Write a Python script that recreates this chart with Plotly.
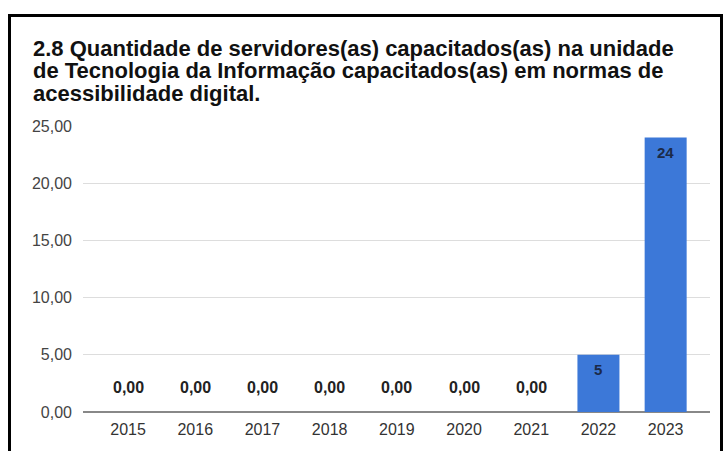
import plotly.graph_objects as go

years = ["2015", "2016", "2017", "2018", "2019", "2020", "2021", "2022", "2023"]
values = [0, 0, 0, 0, 0, 0, 0, 5, 24]
value_labels = ["0,00", "0,00", "0,00", "0,00", "0,00", "0,00", "0,00", "5", "24"]
y_ticks = [0, 5, 10, 15, 20, 25]
y_tick_labels = ["0,00", "5,00", "10,00", "15,00", "20,00", "25,00"]
title_lines = [
    "2.8 Quantidade de servidores(as) capacitados(as) na unidade",
    "de Tecnologia da Informação capacitados(as) em normas de",
    "acessibilidade digital.",
]

FONT = "Arial, 'Liberation Sans', sans-serif"
L, R, T, B = 83, 17, 126, 39
W, H = 727, 451
PH = H - T - B
PW = W - L - R

fig = go.Figure()
fig.add_trace(go.Bar(
    x=years, y=values,
    marker=dict(color="#3c78d8", line=dict(width=0)),
    hoverinfo="skip",
))

annotations = []
for i, (v, lab) in enumerate(zip(values, value_labels)):
    if v == 0:
        annotations.append(dict(x=i, y=v, xref="x", yref="y", text="<b>%s</b>" % lab,
                                showarrow=False, yanchor="middle", yshift=25,
                                font=dict(family=FONT, size=16, color="#222222")))
    else:
        annotations.append(dict(x=i, y=v, xref="x", yref="y", text="<b>%s</b>" % lab,
                                showarrow=False, yanchor="middle", yshift=-15,
                                font=dict(family=FONT, size=15, color="#1b2a48")))

title_y = [48, 70.5, 93]
for line, py in zip(title_lines, title_y):
    annotations.append(dict(x=(31 - L) / PW, y=(H - B - py) / PH, xref="paper", yref="paper",
                            text="<b>%s</b>" % line, showarrow=False, xanchor="left",
                            yanchor="middle",
                            font=dict(family=FONT, size=22, color="#111111")))

fig.update_layout(
    width=W, height=H,
    margin=dict(l=L, r=R, t=T, b=B),
    paper_bgcolor="white", plot_bgcolor="white",
    showlegend=False,
    bargap=0.375,
    annotations=annotations,
    shapes=[dict(type="rect", xref="paper", yref="paper",
                 x0=(9.5 - L) / PW, x1=(721.5 - L) / PW,
                 y0=(H - B - 470) / PH, y1=(H - B - 15.5) / PH,
                 line=dict(color="black", width=3), fillcolor="rgba(0,0,0,0)")],
    xaxis=dict(
        type="category", range=[-0.67, 8.66],
        showgrid=False, zeroline=False, showline=False, ticks="",
        tickfont=dict(family=FONT, size=16, color="#333333"),
        ticklabelstandoff=6,
    ),
    yaxis=dict(
        range=[0, 25], tickvals=y_ticks, ticktext=y_tick_labels,
        showgrid=True, gridcolor="#dddddd", gridwidth=1,
        zeroline=True, zerolinecolor="#888888", zerolinewidth=2,
        showline=False, ticks="",
        tickfont=dict(family=FONT, size=16, color="#444444"),
        ticklabelstandoff=10,
    ),
)

fig.write_html("out.html", config={"displayModeBar": False},
               post_script="document.body.style.margin='0';document.body.style.overflow='hidden';")
